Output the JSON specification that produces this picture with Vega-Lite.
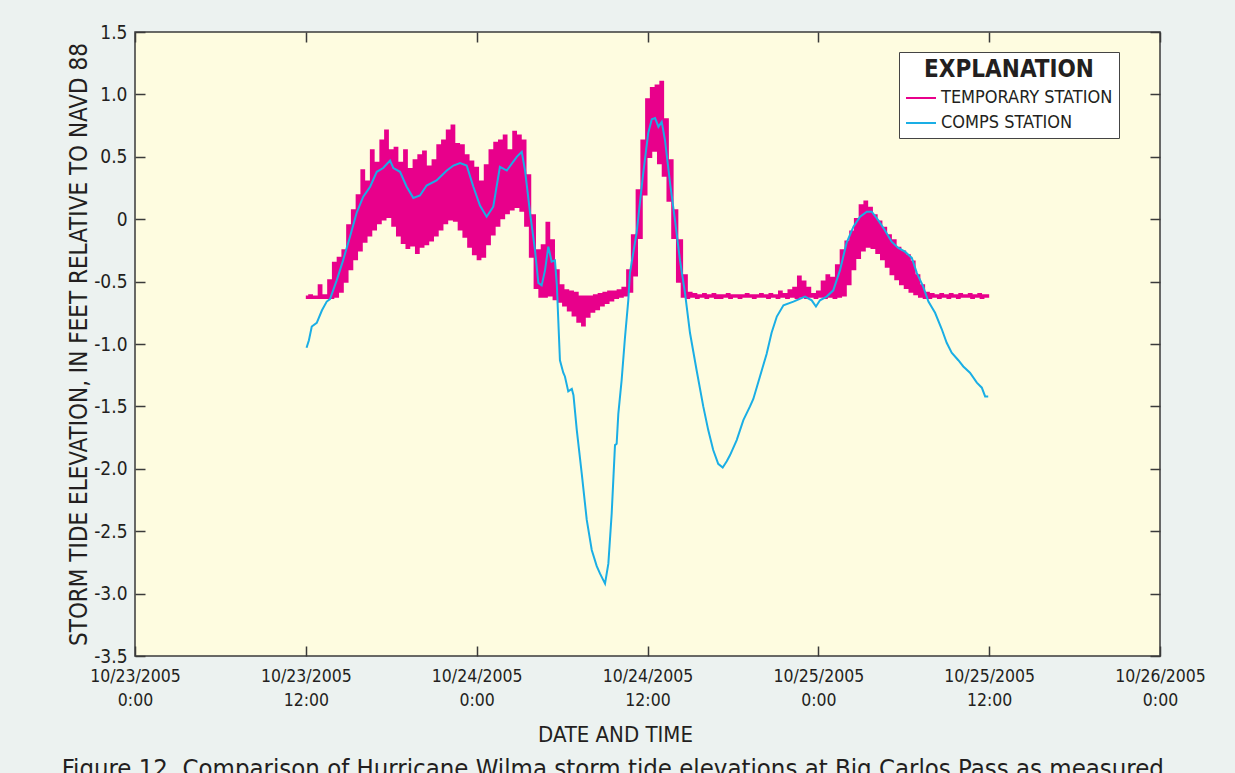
{
  "$schema": "https://vega.github.io/schema/vega-lite/v6.json",
  "width": 1025,
  "height": 624,
  "autosize": {"type": "none"},
  "padding": {"left": 135, "top": 32, "right": 75, "bottom": 117},
  "background": "#ecf2f0",
  "config": {
    "font": "Liberation Sans Narrow, DejaVu Sans Condensed, sans-serif",
    "view": {"fill": "#fefce0", "stroke": "#3a3a3a", "strokeWidth": 1.5},
    "axis": {
      "grid": false,
      "domain": false,
      "ticks": true,
      "tickColor": "#3a3a3a",
      "tickSize": -10,
      "tickWidth": 1.5,
      "labelColor": "#231f20",
      "titleColor": "#231f20",
      "labelFont": "Liberation Sans Narrow, DejaVu Sans Condensed, sans-serif",
      "titleFont": "Liberation Sans Narrow, DejaVu Sans Condensed, sans-serif",
      "titleFontWeight": "normal",
      "labelFlush": false,
      "labelOverlap": false,
      "labelBound": false
    }
  },
  "title": {
    "text": "Figure 12.  Comparison of Hurricane Wilma storm tide elevations at Big Carlos Pass as measured",
    "orient": "bottom",
    "anchor": "start",
    "frame": "bounds",
    "fontSize": 25.5,
    "fontWeight": "normal",
    "font": "Liberation Sans Narrow, DejaVu Sans Condensed, sans-serif",
    "color": "#231f20",
    "offset": 11,
    "dx": -6
  },
  "datasets": {
    "temporary": [
      {"t":"2005-10-23T12:00","v":-0.62},{"t":"2005-10-23T12:10","v":-0.63},{"t":"2005-10-23T12:20","v":-0.61},{"t":"2005-10-23T12:30","v":-0.63},{"t":"2005-10-23T12:40","v":-0.62},{"t":"2005-10-23T12:50","v":-0.63},
      {"t":"2005-10-23T13:00","v":-0.53},{"t":"2005-10-23T13:10","v":-0.63},{"t":"2005-10-23T13:20","v":-0.61},{"t":"2005-10-23T13:30","v":-0.63},{"t":"2005-10-23T13:40","v":-0.49},{"t":"2005-10-23T13:50","v":-0.63},
      {"t":"2005-10-23T14:00","v":-0.35},{"t":"2005-10-23T14:10","v":-0.62},{"t":"2005-10-23T14:20","v":-0.31},{"t":"2005-10-23T14:30","v":-0.58},{"t":"2005-10-23T14:40","v":-0.25},{"t":"2005-10-23T14:50","v":-0.50},
      {"t":"2005-10-23T15:00","v":-0.05},{"t":"2005-10-23T15:10","v":-0.40},{"t":"2005-10-23T15:20","v":0.07},{"t":"2005-10-23T15:30","v":-0.32},{"t":"2005-10-23T15:40","v":0.19},{"t":"2005-10-23T15:50","v":-0.25},
      {"t":"2005-10-23T16:00","v":0.39},{"t":"2005-10-23T16:10","v":-0.18},{"t":"2005-10-23T16:20","v":0.30},{"t":"2005-10-23T16:30","v":-0.13},{"t":"2005-10-23T16:40","v":0.55},{"t":"2005-10-23T16:50","v":-0.08},
      {"t":"2005-10-23T17:00","v":0.45},{"t":"2005-10-23T17:10","v":-0.03},{"t":"2005-10-23T17:20","v":0.63},{"t":"2005-10-23T17:30","v":0.00},{"t":"2005-10-23T17:40","v":0.71},{"t":"2005-10-23T17:50","v":0.02},
      {"t":"2005-10-23T18:00","v":0.55},{"t":"2005-10-23T18:10","v":-0.05},{"t":"2005-10-23T18:20","v":0.57},{"t":"2005-10-23T18:30","v":-0.13},{"t":"2005-10-23T18:40","v":0.45},{"t":"2005-10-23T18:50","v":-0.19},
      {"t":"2005-10-23T19:00","v":0.55},{"t":"2005-10-23T19:10","v":-0.23},{"t":"2005-10-23T19:20","v":0.40},{"t":"2005-10-23T19:30","v":-0.21},{"t":"2005-10-23T19:40","v":0.47},{"t":"2005-10-23T19:50","v":-0.27},
      {"t":"2005-10-23T20:00","v":0.51},{"t":"2005-10-23T20:10","v":-0.22},{"t":"2005-10-23T20:20","v":0.54},{"t":"2005-10-23T20:30","v":-0.20},{"t":"2005-10-23T20:40","v":0.42},{"t":"2005-10-23T20:50","v":-0.17},
      {"t":"2005-10-23T21:00","v":0.47},{"t":"2005-10-23T21:10","v":-0.13},{"t":"2005-10-23T21:20","v":0.59},{"t":"2005-10-23T21:30","v":-0.08},{"t":"2005-10-23T21:40","v":0.63},{"t":"2005-10-23T21:50","v":-0.03},
      {"t":"2005-10-23T22:00","v":0.71},{"t":"2005-10-23T22:10","v":0.00},{"t":"2005-10-23T22:20","v":0.75},{"t":"2005-10-23T22:30","v":-0.01},{"t":"2005-10-23T22:40","v":0.60},{"t":"2005-10-23T22:50","v":-0.08},
      {"t":"2005-10-23T23:00","v":0.59},{"t":"2005-10-23T23:10","v":-0.14},{"t":"2005-10-23T23:20","v":0.51},{"t":"2005-10-23T23:30","v":-0.22},{"t":"2005-10-23T23:40","v":0.46},{"t":"2005-10-23T23:50","v":-0.28},
      {"t":"2005-10-24T00:00","v":0.41},{"t":"2005-10-24T00:10","v":-0.32},{"t":"2005-10-24T00:20","v":0.30},{"t":"2005-10-24T00:30","v":-0.30},{"t":"2005-10-24T00:40","v":0.43},{"t":"2005-10-24T00:50","v":-0.20},
      {"t":"2005-10-24T01:00","v":0.55},{"t":"2005-10-24T01:10","v":-0.12},{"t":"2005-10-24T01:20","v":0.61},{"t":"2005-10-24T01:30","v":-0.05},{"t":"2005-10-24T01:40","v":0.63},{"t":"2005-10-24T01:50","v":0.01},
      {"t":"2005-10-24T02:00","v":0.67},{"t":"2005-10-24T02:10","v":0.05},{"t":"2005-10-24T02:20","v":0.55},{"t":"2005-10-24T02:30","v":0.08},{"t":"2005-10-24T02:40","v":0.70},{"t":"2005-10-24T02:50","v":0.10},
      {"t":"2005-10-24T03:00","v":0.67},{"t":"2005-10-24T03:10","v":0.07},{"t":"2005-10-24T03:20","v":0.63},{"t":"2005-10-24T03:30","v":-0.05},{"t":"2005-10-24T03:40","v":0.35},{"t":"2005-10-24T03:50","v":-0.30},
      {"t":"2005-10-24T04:00","v":0.03},{"t":"2005-10-24T04:10","v":-0.55},{"t":"2005-10-24T04:20","v":-0.25},{"t":"2005-10-24T04:30","v":-0.62},{"t":"2005-10-24T04:40","v":-0.21},{"t":"2005-10-24T04:50","v":-0.62},
      {"t":"2005-10-24T05:00","v":-0.03},{"t":"2005-10-24T05:10","v":-0.61},{"t":"2005-10-24T05:20","v":-0.17},{"t":"2005-10-24T05:30","v":-0.64},{"t":"2005-10-24T05:40","v":-0.41},{"t":"2005-10-24T05:50","v":-0.66},
      {"t":"2005-10-24T06:00","v":-0.53},{"t":"2005-10-24T06:10","v":-0.69},{"t":"2005-10-24T06:20","v":-0.57},{"t":"2005-10-24T06:30","v":-0.73},{"t":"2005-10-24T06:40","v":-0.58},{"t":"2005-10-24T06:50","v":-0.77},
      {"t":"2005-10-24T07:00","v":-0.59},{"t":"2005-10-24T07:10","v":-0.82},{"t":"2005-10-24T07:20","v":-0.62},{"t":"2005-10-24T07:30","v":-0.85},{"t":"2005-10-24T07:40","v":-0.62},{"t":"2005-10-24T07:50","v":-0.78},
      {"t":"2005-10-24T08:00","v":-0.62},{"t":"2005-10-24T08:10","v":-0.74},{"t":"2005-10-24T08:20","v":-0.61},{"t":"2005-10-24T08:30","v":-0.72},{"t":"2005-10-24T08:40","v":-0.60},{"t":"2005-10-24T08:50","v":-0.69},
      {"t":"2005-10-24T09:00","v":-0.59},{"t":"2005-10-24T09:10","v":-0.67},{"t":"2005-10-24T09:20","v":-0.58},{"t":"2005-10-24T09:30","v":-0.65},{"t":"2005-10-24T09:40","v":-0.58},{"t":"2005-10-24T09:50","v":-0.63},
      {"t":"2005-10-24T10:00","v":-0.57},{"t":"2005-10-24T10:10","v":-0.62},{"t":"2005-10-24T10:20","v":-0.55},{"t":"2005-10-24T10:30","v":-0.61},{"t":"2005-10-24T10:40","v":-0.41},{"t":"2005-10-24T10:50","v":-0.58},
      {"t":"2005-10-24T11:00","v":-0.13},{"t":"2005-10-24T11:10","v":-0.45},{"t":"2005-10-24T11:20","v":0.23},{"t":"2005-10-24T11:30","v":-0.15},{"t":"2005-10-24T11:40","v":0.63},{"t":"2005-10-24T11:50","v":0.20},
      {"t":"2005-10-24T12:00","v":0.96},{"t":"2005-10-24T12:10","v":0.50},{"t":"2005-10-24T12:20","v":1.05},{"t":"2005-10-24T12:30","v":0.55},{"t":"2005-10-24T12:40","v":1.07},{"t":"2005-10-24T12:50","v":0.45},
      {"t":"2005-10-24T13:00","v":1.10},{"t":"2005-10-24T13:10","v":0.35},{"t":"2005-10-24T13:20","v":0.80},{"t":"2005-10-24T13:30","v":0.15},{"t":"2005-10-24T13:40","v":0.47},{"t":"2005-10-24T13:50","v":-0.15},
      {"t":"2005-10-24T14:00","v":0.07},{"t":"2005-10-24T14:10","v":-0.50},{"t":"2005-10-24T14:20","v":-0.17},{"t":"2005-10-24T14:30","v":-0.62},{"t":"2005-10-24T14:40","v":-0.45},{"t":"2005-10-24T14:50","v":-0.63},
      {"t":"2005-10-24T15:00","v":-0.59},{"t":"2005-10-24T15:10","v":-0.62},{"t":"2005-10-24T15:20","v":-0.60},{"t":"2005-10-24T15:30","v":-0.63},{"t":"2005-10-24T15:40","v":-0.61},{"t":"2005-10-24T15:50","v":-0.62},
      {"t":"2005-10-24T16:00","v":-0.60},{"t":"2005-10-24T16:10","v":-0.63},{"t":"2005-10-24T16:20","v":-0.61},{"t":"2005-10-24T16:30","v":-0.62},{"t":"2005-10-24T16:40","v":-0.60},{"t":"2005-10-24T16:50","v":-0.63},
      {"t":"2005-10-24T17:00","v":-0.61},{"t":"2005-10-24T17:10","v":-0.63},{"t":"2005-10-24T17:20","v":-0.61},{"t":"2005-10-24T17:30","v":-0.62},{"t":"2005-10-24T17:40","v":-0.60},{"t":"2005-10-24T17:50","v":-0.63},
      {"t":"2005-10-24T18:00","v":-0.61},{"t":"2005-10-24T18:10","v":-0.62},{"t":"2005-10-24T18:20","v":-0.61},{"t":"2005-10-24T18:30","v":-0.63},{"t":"2005-10-24T18:40","v":-0.61},{"t":"2005-10-24T18:50","v":-0.62},
      {"t":"2005-10-24T19:00","v":-0.60},{"t":"2005-10-24T19:10","v":-0.62},{"t":"2005-10-24T19:20","v":-0.61},{"t":"2005-10-24T19:30","v":-0.63},{"t":"2005-10-24T19:40","v":-0.61},{"t":"2005-10-24T19:50","v":-0.62},
      {"t":"2005-10-24T20:00","v":-0.60},{"t":"2005-10-24T20:10","v":-0.62},{"t":"2005-10-24T20:20","v":-0.61},{"t":"2005-10-24T20:30","v":-0.63},{"t":"2005-10-24T20:40","v":-0.60},{"t":"2005-10-24T20:50","v":-0.62},
      {"t":"2005-10-24T21:00","v":-0.61},{"t":"2005-10-24T21:10","v":-0.63},{"t":"2005-10-24T21:20","v":-0.58},{"t":"2005-10-24T21:30","v":-0.62},{"t":"2005-10-24T21:40","v":-0.60},{"t":"2005-10-24T21:50","v":-0.63},
      {"t":"2005-10-24T22:00","v":-0.57},{"t":"2005-10-24T22:10","v":-0.62},{"t":"2005-10-24T22:20","v":-0.55},{"t":"2005-10-24T22:30","v":-0.63},{"t":"2005-10-24T22:40","v":-0.46},{"t":"2005-10-24T22:50","v":-0.62},
      {"t":"2005-10-24T23:00","v":-0.50},{"t":"2005-10-24T23:10","v":-0.63},{"t":"2005-10-24T23:20","v":-0.55},{"t":"2005-10-24T23:30","v":-0.62},{"t":"2005-10-24T23:40","v":-0.60},{"t":"2005-10-24T23:50","v":-0.63},
      {"t":"2005-10-25T00:00","v":-0.58},{"t":"2005-10-25T00:10","v":-0.62},{"t":"2005-10-25T00:20","v":-0.50},{"t":"2005-10-25T00:30","v":-0.63},{"t":"2005-10-25T00:40","v":-0.45},{"t":"2005-10-25T00:50","v":-0.62},
      {"t":"2005-10-25T01:00","v":-0.47},{"t":"2005-10-25T01:10","v":-0.63},{"t":"2005-10-25T01:20","v":-0.37},{"t":"2005-10-25T01:30","v":-0.62},{"t":"2005-10-25T01:40","v":-0.25},{"t":"2005-10-25T01:50","v":-0.61},
      {"t":"2005-10-25T02:00","v":-0.18},{"t":"2005-10-25T02:10","v":-0.52},{"t":"2005-10-25T02:20","v":-0.10},{"t":"2005-10-25T02:30","v":-0.40},{"t":"2005-10-25T02:40","v":0.00},{"t":"2005-10-25T02:50","v":-0.31},
      {"t":"2005-10-25T03:00","v":0.11},{"t":"2005-10-25T03:10","v":-0.25},{"t":"2005-10-25T03:20","v":0.14},{"t":"2005-10-25T03:30","v":-0.22},{"t":"2005-10-25T03:40","v":0.09},{"t":"2005-10-25T03:50","v":-0.23},
      {"t":"2005-10-25T04:00","v":0.03},{"t":"2005-10-25T04:10","v":-0.27},{"t":"2005-10-25T04:20","v":-0.02},{"t":"2005-10-25T04:30","v":-0.32},{"t":"2005-10-25T04:40","v":-0.07},{"t":"2005-10-25T04:50","v":-0.38},
      {"t":"2005-10-25T05:00","v":-0.13},{"t":"2005-10-25T05:10","v":-0.44},{"t":"2005-10-25T05:20","v":-0.17},{"t":"2005-10-25T05:30","v":-0.48},{"t":"2005-10-25T05:40","v":-0.23},{"t":"2005-10-25T05:50","v":-0.52},
      {"t":"2005-10-25T06:00","v":-0.26},{"t":"2005-10-25T06:10","v":-0.55},{"t":"2005-10-25T06:20","v":-0.29},{"t":"2005-10-25T06:30","v":-0.58},{"t":"2005-10-25T06:40","v":-0.34},{"t":"2005-10-25T06:50","v":-0.60},
      {"t":"2005-10-25T07:00","v":-0.45},{"t":"2005-10-25T07:10","v":-0.62},{"t":"2005-10-25T07:20","v":-0.53},{"t":"2005-10-25T07:30","v":-0.63},{"t":"2005-10-25T07:40","v":-0.59},{"t":"2005-10-25T07:50","v":-0.63},
      {"t":"2005-10-25T08:00","v":-0.60},{"t":"2005-10-25T08:10","v":-0.62},{"t":"2005-10-25T08:20","v":-0.61},{"t":"2005-10-25T08:30","v":-0.63},{"t":"2005-10-25T08:40","v":-0.60},{"t":"2005-10-25T08:50","v":-0.62},
      {"t":"2005-10-25T09:00","v":-0.61},{"t":"2005-10-25T09:10","v":-0.63},{"t":"2005-10-25T09:20","v":-0.60},{"t":"2005-10-25T09:30","v":-0.62},{"t":"2005-10-25T09:40","v":-0.61},{"t":"2005-10-25T09:50","v":-0.63},
      {"t":"2005-10-25T10:00","v":-0.60},{"t":"2005-10-25T10:10","v":-0.62},{"t":"2005-10-25T10:20","v":-0.61},{"t":"2005-10-25T10:30","v":-0.62},{"t":"2005-10-25T10:40","v":-0.60},{"t":"2005-10-25T10:50","v":-0.63},
      {"t":"2005-10-25T11:00","v":-0.61},{"t":"2005-10-25T11:10","v":-0.62},{"t":"2005-10-25T11:20","v":-0.60},{"t":"2005-10-25T11:30","v":-0.63},{"t":"2005-10-25T11:40","v":-0.61},{"t":"2005-10-25T11:50","v":-0.62},
      {"t":"2005-10-25T12:00","v":-0.61}
    ],
    "comps": [
      {"t":"2005-10-23T12:03","v":-1.03},{"t":"2005-10-23T12:13","v":-0.97},{"t":"2005-10-23T12:25","v":-0.86},{"t":"2005-10-23T12:46","v":-0.83},{"t":"2005-10-23T13:08","v":-0.73},{"t":"2005-10-23T13:28","v":-0.66},{"t":"2005-10-23T13:42","v":-0.64},{"t":"2005-10-23T14:10","v":-0.49},{"t":"2005-10-23T14:37","v":-0.33},{"t":"2005-10-23T15:06","v":-0.14},{"t":"2005-10-23T15:34","v":0.05},{"t":"2005-10-23T16:02","v":0.18},{"t":"2005-10-23T16:31","v":0.26},{"t":"2005-10-23T16:59","v":0.38},{"t":"2005-10-23T17:26","v":0.41},{"t":"2005-10-23T17:55","v":0.47},{"t":"2005-10-23T18:09","v":0.41},{"t":"2005-10-23T18:37","v":0.38},{"t":"2005-10-23T19:05","v":0.26},{"t":"2005-10-23T19:33","v":0.17},{"t":"2005-10-23T20:01","v":0.19},{"t":"2005-10-23T20:29","v":0.27},{"t":"2005-10-23T21:11","v":0.31},{"t":"2005-10-23T21:54","v":0.39},{"t":"2005-10-23T22:22","v":0.43},{"t":"2005-10-23T22:50","v":0.45},{"t":"2005-10-23T23:18","v":0.43},{"t":"2005-10-23T23:46","v":0.26},
      {"t":"2005-10-24T00:14","v":0.11},{"t":"2005-10-24T00:42","v":0.02},{"t":"2005-10-24T01:10","v":0.10},{"t":"2005-10-24T01:38","v":0.42},{"t":"2005-10-24T02:07","v":0.39},{"t":"2005-10-24T02:49","v":0.50},{"t":"2005-10-24T03:10","v":0.54},{"t":"2005-10-24T03:24","v":0.39},{"t":"2005-10-24T03:45","v":0.05},{"t":"2005-10-24T04:06","v":-0.25},{"t":"2005-10-24T04:20","v":-0.51},{"t":"2005-10-24T04:34","v":-0.53},{"t":"2005-10-24T04:48","v":-0.41},{"t":"2005-10-24T05:02","v":-0.22},{"t":"2005-10-24T05:16","v":-0.34},{"t":"2005-10-24T05:30","v":-0.33},{"t":"2005-10-24T05:38","v":-0.53},{"t":"2005-10-24T05:44","v":-0.81},{"t":"2005-10-24T05:51","v":-1.13},{"t":"2005-10-24T06:05","v":-1.23},{"t":"2005-10-24T06:12","v":-1.26},{"t":"2005-10-24T06:26","v":-1.38},{"t":"2005-10-24T06:41","v":-1.36},{"t":"2005-10-24T06:48","v":-1.41},{"t":"2005-10-24T07:02","v":-1.69},{"t":"2005-10-24T07:23","v":-2.04},{"t":"2005-10-24T07:44","v":-2.41},{"t":"2005-10-24T08:05","v":-2.65},{"t":"2005-10-24T08:26","v":-2.78},{"t":"2005-10-24T08:40","v":-2.84},{"t":"2005-10-24T09:01","v":-2.92},{"t":"2005-10-24T09:15","v":-2.76},{"t":"2005-10-24T09:29","v":-2.36},{"t":"2005-10-24T09:43","v":-1.81},{"t":"2005-10-24T09:50","v":-1.80},{"t":"2005-10-24T09:57","v":-1.56},{"t":"2005-10-24T10:11","v":-1.29},{"t":"2005-10-24T10:25","v":-0.95},{"t":"2005-10-24T10:39","v":-0.65},{"t":"2005-10-24T10:46","v":-0.43},{"t":"2005-10-24T11:14","v":-0.11},{"t":"2005-10-24T11:42","v":0.37},{"t":"2005-10-24T12:03","v":0.69},{"t":"2005-10-24T12:18","v":0.80},{"t":"2005-10-24T12:32","v":0.81},{"t":"2005-10-24T12:46","v":0.74},{"t":"2005-10-24T13:00","v":0.78},{"t":"2005-10-24T13:14","v":0.63},{"t":"2005-10-24T13:35","v":0.29},{"t":"2005-10-24T13:56","v":-0.01},{"t":"2005-10-24T14:17","v":-0.33},{"t":"2005-10-24T14:38","v":-0.59},{"t":"2005-10-24T14:59","v":-0.91},{"t":"2005-10-24T15:27","v":-1.21},{"t":"2005-10-24T15:55","v":-1.50},{"t":"2005-10-24T16:16","v":-1.69},{"t":"2005-10-24T16:37","v":-1.85},{"t":"2005-10-24T16:58","v":-1.96},{"t":"2005-10-24T17:17","v":-1.99},{"t":"2005-10-24T17:34","v":-1.94},{"t":"2005-10-24T17:48","v":-1.89},{"t":"2005-10-24T18:16","v":-1.77},{"t":"2005-10-24T18:44","v":-1.61},{"t":"2005-10-24T19:12","v":-1.50},{"t":"2005-10-24T19:26","v":-1.44},{"t":"2005-10-24T19:54","v":-1.26},{"t":"2005-10-24T20:22","v":-1.08},{"t":"2005-10-24T20:43","v":-0.91},{"t":"2005-10-24T21:05","v":-0.78},{"t":"2005-10-24T21:33","v":-0.69},{"t":"2005-10-24T22:15","v":-0.66},{"t":"2005-10-24T23:04","v":-0.62},{"t":"2005-10-24T23:32","v":-0.65},{"t":"2005-10-24T23:50","v":-0.70},
      {"t":"2005-10-25T00:07","v":-0.65},{"t":"2005-10-25T00:35","v":-0.62},{"t":"2005-10-25T01:03","v":-0.57},{"t":"2005-10-25T01:31","v":-0.41},{"t":"2005-10-25T01:59","v":-0.19},{"t":"2005-10-25T02:28","v":-0.06},{"t":"2005-10-25T02:56","v":0.02},{"t":"2005-10-25T03:24","v":0.06},{"t":"2005-10-25T03:45","v":0.06},{"t":"2005-10-25T04:13","v":-0.01},{"t":"2005-10-25T04:41","v":-0.09},{"t":"2005-10-25T05:09","v":-0.18},{"t":"2005-10-25T05:37","v":-0.23},{"t":"2005-10-25T06:05","v":-0.26},{"t":"2005-10-25T06:34","v":-0.31},{"t":"2005-10-25T06:55","v":-0.43},{"t":"2005-10-25T07:22","v":-0.54},{"t":"2005-10-25T07:44","v":-0.66},{"t":"2005-10-25T08:12","v":-0.75},{"t":"2005-10-25T08:40","v":-0.88},{"t":"2005-10-25T09:01","v":-0.99},{"t":"2005-10-25T09:22","v":-1.07},{"t":"2005-10-25T09:50","v":-1.13},{"t":"2005-10-25T10:11","v":-1.18},{"t":"2005-10-25T10:39","v":-1.23},{"t":"2005-10-25T11:08","v":-1.31},{"t":"2005-10-25T11:29","v":-1.35},{"t":"2005-10-25T11:43","v":-1.42},{"t":"2005-10-25T11:56","v":-1.42}
    ]
  },
  "layer": [
    {
      "data": {"name": "temporary"},
      "mark": {"type": "line", "interpolate": "step", "strokeWidth": 2.4, "clip": true},
      "encoding": {
        "x": {
          "field": "t", "type": "temporal",
          "scale": {"domain": [{"year": 2005, "month": 10, "date": 23}, {"year": 2005, "month": 10, "date": 26}]},
          "axis": {
            "orient": "bottom",
            "values": [
              {"year": 2005, "month": 10, "date": 23, "hours": 0}, {"year": 2005, "month": 10, "date": 23, "hours": 12},
              {"year": 2005, "month": 10, "date": 24, "hours": 0}, {"year": 2005, "month": 10, "date": 24, "hours": 12},
              {"year": 2005, "month": 10, "date": 25, "hours": 0}, {"year": 2005, "month": 10, "date": 25, "hours": 12},
              {"year": 2005, "month": 10, "date": 26, "hours": 0}
            ],
            "labelExpr": "[timeFormat(datum.value, '%m/%d/%Y'), timeFormat(datum.value, '%-H:%M')]",
            "labelFontSize": 17.5,
            "labelLineHeight": 24,
            "labelPadding": 21,
            "title": "DATE AND TIME",
            "titleFontSize": 22,
            "titlePadding": 16,
            "titleX": 480
          }
        },
        "y": {
          "field": "v", "type": "quantitative",
          "scale": {"domain": [-3.5, 1.5]},
          "axis": {
            "orient": "left",
            "values": [-3.5, -3, -2.5, -2, -1.5, -1, -0.5, 0, 0.5, 1, 1.5],
            "labelExpr": "datum.value == 0 ? '0' : (datum.value < 0 ? '-' : '') + format(abs(datum.value), '.1f')",
            "labelFontSize": 19,
            "labelPadding": 18,
            "title": "STORM TIDE ELEVATION, IN FEET RELATIVE TO NAVD 88",
            "titleFontSize": 24,
            "titlePadding": 2
          }
        },
        "color": {
          "datum": "TEMPORARY STATION",
          "type": "nominal",
          "scale": {"domain": ["TEMPORARY STATION", "COMPS STATION"], "range": ["#e8008b", "#1aaee5"]},
          "legend": {
            "title": "EXPLANATION",
            "orient": "none",
            "legendX": 764,
            "legendY": 20,
            "symbolType": "stroke",
            "symbolSize": 900,
            "symbolStrokeWidth": 2,
            "fillColor": "white",
            "strokeColor": "#444444",
            "padding": 6,
            "titleFontSize": 24,
            "titleFontWeight": "bold",
            "titleColor": "#231f20",
            "titleAnchor": "middle",
            "titlePadding": 0,
            "titleFont": "Liberation Sans Narrow, DejaVu Sans Condensed, sans-serif",
            "labelFont": "Liberation Sans Narrow, DejaVu Sans Condensed, sans-serif",
            "labelFontSize": 18,
            "labelColor": "#231f20",
            "labelOffset": 4,
            "labelLimit": 400,
            "rowPadding": -5
          }
        }
      }
    },
    {
      "data": {"name": "comps"},
      "mark": {"type": "line", "strokeWidth": 2, "clip": true},
      "encoding": {
        "x": {
          "field": "t", "type": "temporal",
          "scale": {"domain": [{"year": 2005, "month": 10, "date": 23}, {"year": 2005, "month": 10, "date": 26}]},
          "axis": {
            "orient": "top",
            "values": [
              {"year": 2005, "month": 10, "date": 23, "hours": 0}, {"year": 2005, "month": 10, "date": 23, "hours": 12},
              {"year": 2005, "month": 10, "date": 24, "hours": 0}, {"year": 2005, "month": 10, "date": 24, "hours": 12},
              {"year": 2005, "month": 10, "date": 25, "hours": 0}, {"year": 2005, "month": 10, "date": 25, "hours": 12},
              {"year": 2005, "month": 10, "date": 26, "hours": 0}
            ],
            "labels": false,
            "title": null
          }
        },
        "y": {
          "field": "v", "type": "quantitative",
          "scale": {"domain": [-3.5, 1.5]},
          "axis": {
            "orient": "right",
            "values": [-3.5, -3, -2.5, -2, -1.5, -1, -0.5, 0, 0.5, 1, 1.5],
            "labels": false,
            "title": null
          }
        },
        "color": {"datum": "COMPS STATION", "type": "nominal"}
      }
    }
  ],
  "resolve": {"scale": {"x": "independent", "y": "independent"}}
}
